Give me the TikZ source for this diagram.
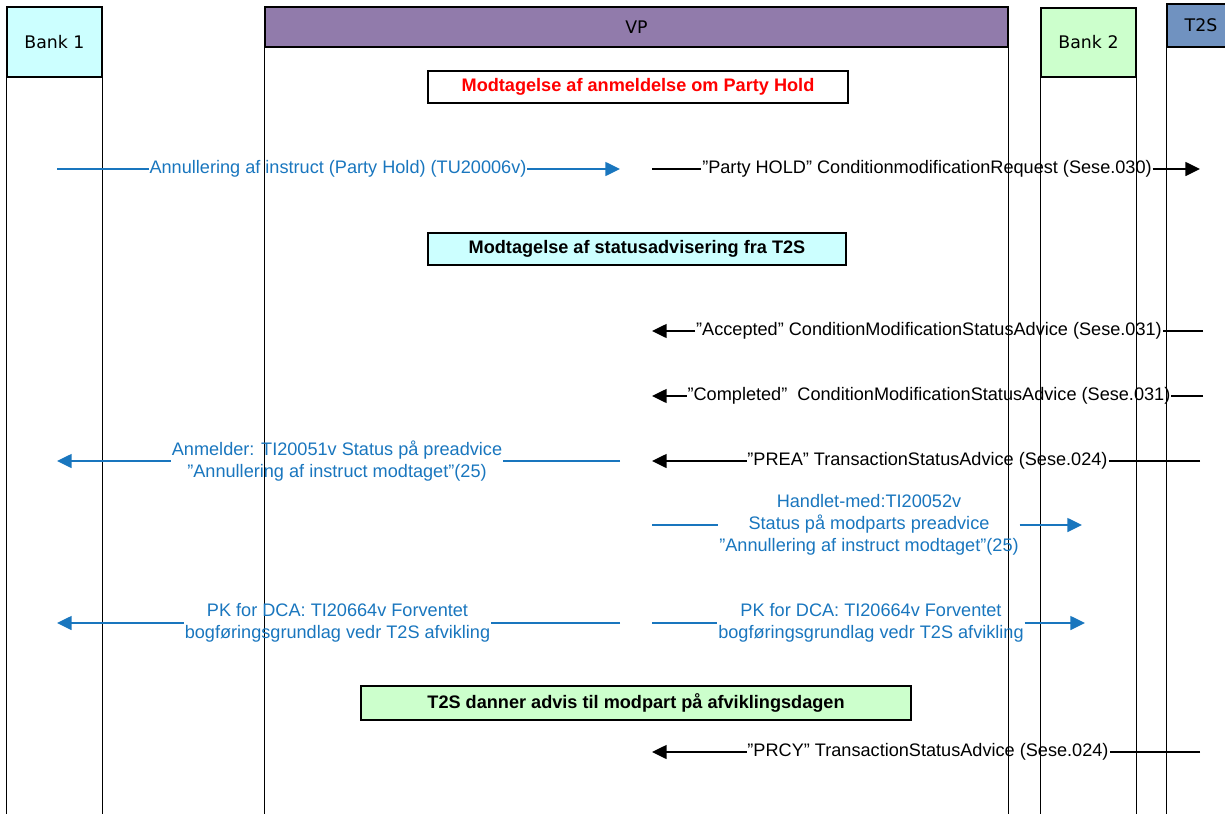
\documentclass[tikz,border=0pt]{standalone}
\usepackage{fontspec}
\setmainfont{Liberation Sans}
\newfontfamily\hdrfont{DejaVu Sans}
\usetikzlibrary{arrows.meta}
\definecolor{msgblue}{RGB}{25,118,190}
\definecolor{vppurple}{RGB}{145,123,171}
\definecolor{ttsblue}{RGB}{112,146,192}
\definecolor{lightcyan}{RGB}{204,255,255}
\definecolor{lightgreen}{RGB}{204,255,204}
\tikzset{
  lane/.style={draw,line width=1.1pt},
  hdr/.style={lane,inner sep=0pt,font=\hdrfont\fontsize{13}{15}\selectfont},
  note/.style={draw,line width=1.3pt,inner sep=0pt,minimum height=24pt,
    font=\bfseries\fontsize{13.6}{16}\selectfont},
  msg/.style={inner xsep=0.5pt,inner ysep=0pt,align=center,
    font=\fontsize{13.6}{16.5}\selectfont},
  bluemsg/.style={msg,text=msgblue},
  link/.style={line width=1.1pt},
  tip/.style={-{Triangle[length=11pt,width=10.5pt]}}
}
\begin{document}
\begin{tikzpicture}[x=0.75pt,y=-0.75pt]
        \def\ybot{830}
        \useasboundingbox (0,0) rectangle (1225,814);
        \clip (0,0) rectangle (1225,814);

        \node (bank1) at (54.5,42) [hdr,fill=lightcyan,minimum width=71.25pt,minimum height=52.5pt] {Bank 1};
        \node (vp) at (636.5,27) [hdr,fill=vppurple,minimum width=557.25pt,minimum height=30pt] {VP};
        \node (bank2) at (1088.5,42.5) [hdr,fill=lightgreen,minimum width=71.25pt,minimum height=51.75pt] {Bank 2};
        \node (tts) at (1201,25.5) [hdr,fill=ttsblue,minimum width=51pt,minimum height=32.25pt] {T2S};

        \draw[lane] (bank1.south west) -- (bank1.south west |- 0,\ybot);
        \draw[lane] (bank1.south east) -- (bank1.south east |- 0,\ybot);
        \draw[lane] (vp.south west) -- (vp.south west |- 0,\ybot);
        \draw[lane] (vp.south east) -- (vp.south east |- 0,\ybot);
        \draw[lane] (bank2.south west) -- (bank2.south west |- 0,\ybot);
        \draw[lane] (bank2.south east) -- (bank2.south east |- 0,\ybot);
        \draw[lane] (tts.south west) -- (tts.south west |- 0,\ybot);

        \node (note1) at (638,87) [note,fill=white,text=red,minimum width=315pt] {Modtagelse af anmeldelse om Party Hold};
        \node (note2) at (637,249) [note,fill=lightcyan,minimum width=313.5pt] {Modtagelse af statusadvisering fra T2S};
        \node (note3) at (636,703) [note,fill=lightgreen,minimum width=412pt,minimum height=25pt] {T2S danner advis til modpart på afviklingsdagen};

        \node (m1) at (338,169) [bluemsg] {Annullering af instruct (Party Hold) (TU20006v)};
        \coordinate (m1a) at (57,169);
        \coordinate (m1b) at (620,169);
        \draw[link,msgblue] (m1a) -- (m1);
        \draw[link,msgblue,tip] (m1) -- (m1b);

        \node (m2) at (927,169) [msg] {”Party HOLD” ConditionmodificationRequest (Sese.030)};
        \coordinate (m2a) at (652,169);
        \coordinate (m2b) at (1200,169);
        \draw[link] (m2a) -- (m2);
        \draw[link,tip] (m2) -- (m2b);

        \node (m3) at (929,331) [msg] {”Accepted” ConditionModificationStatusAdvice (Sese.031)};
        \coordinate (m3a) at (1203,331);
        \coordinate (m3b) at (652,331);
        \draw[link] (m3a) -- (m3);
        \draw[link,tip] (m3) -- (m3b);

        \node (m4) at (929,396) [msg] {”Completed”\ \ ConditionModificationStatusAdvice (Sese.031)};
        \coordinate (m4a) at (1203,396);
        \coordinate (m4b) at (652,396);
        \draw[link] (m4a) -- (m4);
        \draw[link,tip] (m4) -- (m4b);

        \node (m5) at (927.5,461) [msg] {”PREA” TransactionStatusAdvice (Sese.024)};
        \coordinate (m5a) at (1200,461);
        \coordinate (m5b) at (652,461);
        \draw[link] (m5a) -- (m5);
        \draw[link,tip] (m5) -- (m5b);

        \node (m6) at (337,461) [bluemsg] {Anmelder: TI20051v Status på preadvice\\”Annullering af instruct modtaget”(25)};
        \coordinate (m6a) at (620,461);
        \coordinate (m6b) at (57,461);
        \draw[link,msgblue] (m6a) -- (m6);
        \draw[link,msgblue,tip] (m6) -- (m6b);

        \node (m7) at (869,525) [bluemsg] {Handlet-med:TI20052v\\Status på modparts preadvice\\”Annullering af instruct modtaget”(25)};
        \coordinate (m7a) at (652,525);
        \coordinate (m7b) at (1082,525);
        \draw[link,msgblue] (m7a) -- (m7);
        \draw[link,msgblue,tip] (m7) -- (m7b);

        \node (m8) at (337.5,623) [bluemsg] {PK for DCA: TI20664v Forventet\\bogføringsgrundlag vedr T2S afvikling};
        \coordinate (m8a) at (620,623);
        \coordinate (m8b) at (57,623);
        \draw[link,msgblue] (m8a) -- (m8);
        \draw[link,msgblue,tip] (m8) -- (m8b);

        \node (m9) at (871,623) [bluemsg] {PK for DCA: TI20664v Forventet\\bogføringsgrundlag vedr T2S afvikling};
        \coordinate (m9a) at (652,623);
        \coordinate (m9b) at (1085,623);
        \draw[link,msgblue] (m9a) -- (m9);
        \draw[link,msgblue,tip] (m9) -- (m9b);

        \node (m10) at (928,752) [msg] {”PRCY” TransactionStatusAdvice (Sese.024)};
        \coordinate (m10a) at (1200,752);
        \coordinate (m10b) at (652,752);
        \draw[link] (m10a) -- (m10);
        \draw[link,tip] (m10) -- (m10b);
\end{tikzpicture}
\end{document}
